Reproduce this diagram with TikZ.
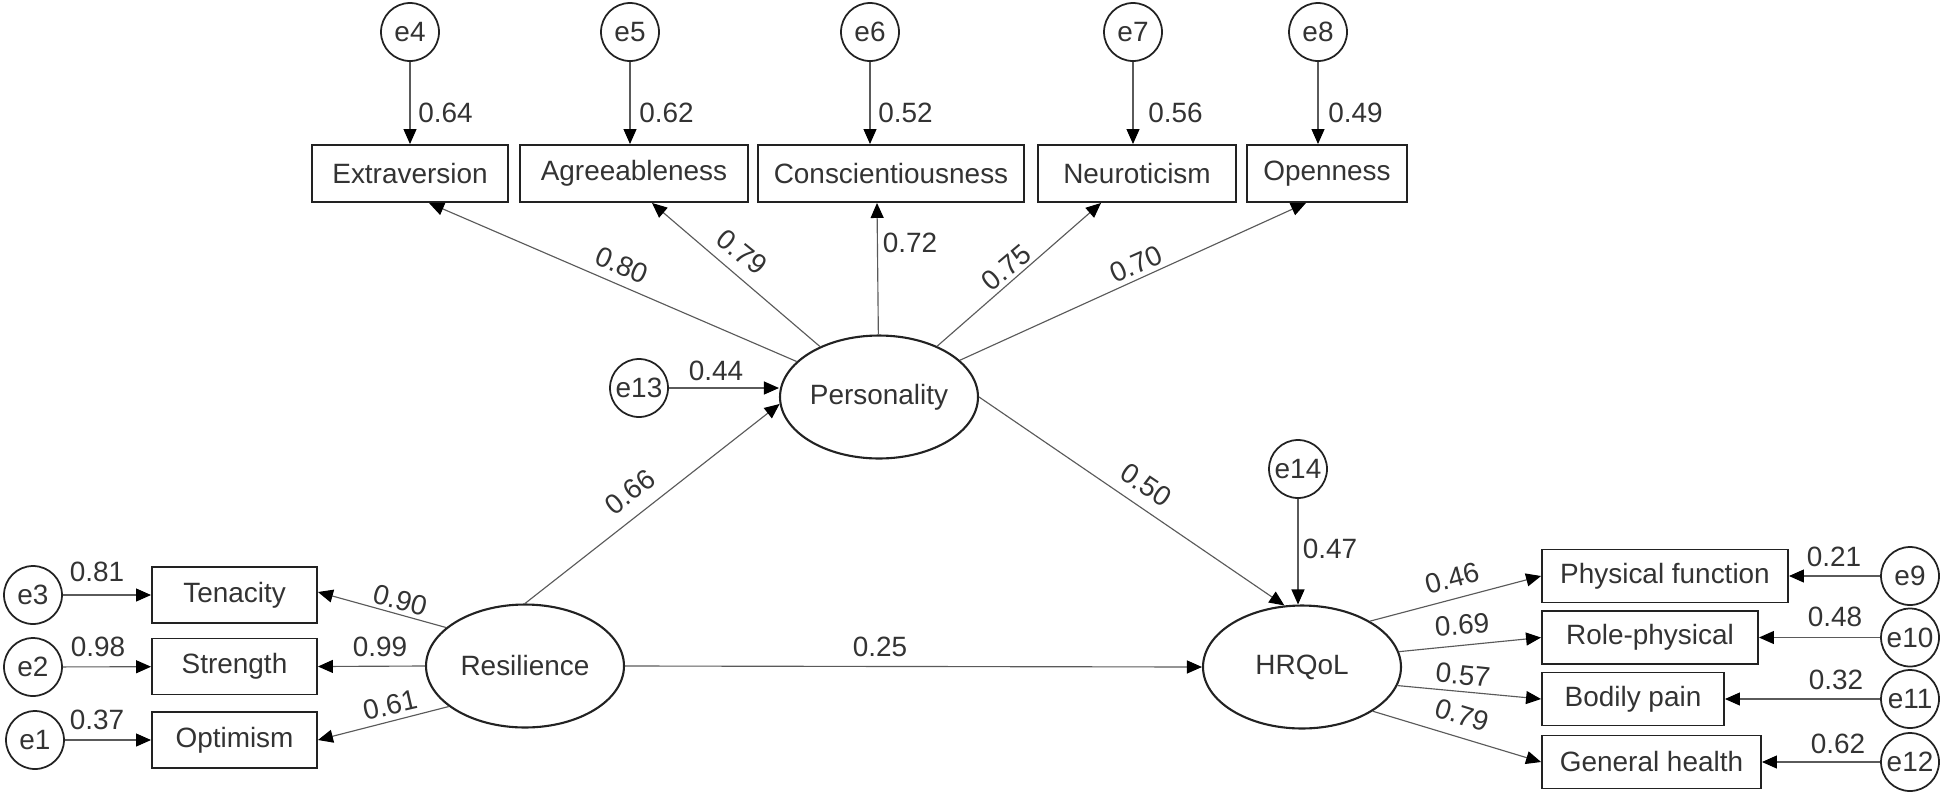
\documentclass[tikz,border=0pt]{standalone}
\usepackage{fontspec}
\setmainfont{Liberation Sans}
\usetikzlibrary{arrows.meta,calc,shapes.geometric}
\definecolor{ln}{HTML}{5A5A5A}
\definecolor{tx}{HTML}{333333}
\definecolor{bd}{HTML}{222222}
\begin{document}
\begin{tikzpicture}[x=0.02cm,y=-0.02cm,
  font=\fontsize{15.9}{19}\selectfont,
  every node/.style={text=tx},
  obs/.style={rectangle, draw=bd, line width=1.1pt, minimum height=1.12cm, inner sep=0pt},
  lat/.style={ellipse, draw=bd, line width=1.2pt, minimum width=3.96cm, minimum height=2.46cm, inner sep=0pt},
  err/.style={circle, draw=bd, line width=1pt, minimum size=1.16cm, inner sep=0pt},
  arr/.style={draw=ln, line width=0.65pt, -{Triangle[length=0.3cm,width=0.26cm,color=black]}},
  lab/.style={inner sep=0pt}]
\useasboundingbox (0,0) rectangle (1944,795);

% ---------- latent variables
\node[lat] (pers) at (879,397) {Personality};
\node[lat] (res) at (525,666) {Resilience};
\node[lat] (hrq) at (1302,667) {HRQoL};

% ---------- top indicators
\node[obs, minimum width=3.92cm, minimum height=1.14cm] (ext) at (410,173.5) {Extraversion};
\node[obs, minimum width=4.56cm, minimum height=1.14cm] (agr) at (634,173.5) {Agreeableness};
\node[obs, minimum width=5.32cm, minimum height=1.14cm] (con) at (891,173.5) {Conscientiousness};
\node[obs, minimum width=3.96cm, minimum height=1.14cm] (neu) at (1137,173.5) {Neuroticism};
\node[obs, minimum width=3.2cm, minimum height=1.14cm] (ope) at (1327,173.5) {Openness};

\node[err] (e4) at (410,32) {e4};
\node[err] (e5) at (630,32) {e5};
\node[err] (e6) at (870,32) {e6};
\node[err] (e7) at (1133,32) {e7};
\node[err] (e8) at (1318,32) {e8};

\draw[arr] (e4) -- (e4 |- ext.north);
\draw[arr] (e5) -- (e5 |- agr.north);
\draw[arr] (e6) -- (e6 |- con.north);
\draw[arr] (e7) -- (e7 |- neu.north);
\draw[arr] (e8) -- (e8 |- ope.north);
\node[lab, anchor=west] at (418,113) {0.64};
\node[lab, anchor=west] at (639,113) {0.62};
\node[lab, anchor=west] at (878,113) {0.52};
\node[lab, anchor=west] at (1148,113) {0.56};
\node[lab, anchor=west] at (1328,113) {0.49};

\draw[arr] (pers) -- ($(ext.south)+(19,0)$);
\draw[arr] (pers) -- ($(agr.south)+(18,0)$);
\draw[arr] (pers) -- ($(con.south)+(-14,0)$);
\draw[arr] (pers) -- ($(neu.south)+(-36,0)$);
\draw[arr] (pers) -- ($(ope.south)+(-21,0)$);
\node[lab, rotate=-23] at (622,265) {0.80};
\node[lab, rotate=-39] at (742,252) {0.79};
\node[lab] at (910,243) {0.72};
\node[lab, rotate=40] at (1006,268) {0.75};
\node[lab, rotate=24] at (1136,264) {0.70};

% ---------- e13, e14
\node[err] (e13) at (639,388) {e13};
\draw[arr] (e13) -- (e13 -| pers.west);
\node[lab] at (716,371) {0.44};

\node[err] (e14) at (1298,469) {e14};
\draw[arr] (e14) -- (e14 |- hrq.north);
\node[lab] at (1330,549) {0.47};

% ---------- structural paths
\draw[arr] (res.north) -- (pers.184);
\node[lab, rotate=38] at (630,492) {0.66};
\draw[arr] (pers.east) -- (hrq.106);
\node[lab, rotate=-34] at (1146,485) {0.50};
\draw[arr] (res.east) -- (hrq.west);
\node[lab] at (880,647) {0.25};

% ---------- left indicators
\node[obs, minimum width=3.3cm] (ten) at (234.5,595) {Tenacity};
\node[obs, minimum width=3.3cm] (str) at (234.5,666.5) {Strength};
\node[obs, minimum width=3.3cm] (opt) at (234.5,740) {Optimism};
\node[err] (e3) at (33,595) {e3};
\node[err] (e2) at (33,667) {e2};
\node[err] (e1) at (35,740) {e1};
\draw[arr] (e3) -- (ten);
\draw[arr] (e2) -- (str);
\draw[arr] (e1) -- (opt);
\node[lab] at (97,572) {0.81};
\node[lab] at (98,647) {0.98};
\node[lab] at (97,720) {0.37};

\draw[arr] (res.154) -- ($(ten.east)+(0,-3)$);
\draw[arr] (res.west) -- (str.east);
\draw[arr] (res.208) -- (opt.east);
\node[lab, rotate=-15] at (400,600) {0.90};
\node[lab] at (380,647) {0.99};
\node[lab, rotate=13] at (390,705) {0.61};

% ---------- right indicators
\node[obs, minimum width=4.92cm, minimum height=1.06cm] (pf) at (1665,576) {Physical function};
\node[obs, minimum width=4.32cm, minimum height=1.06cm] (rp) at (1650,637.5) {Role-physical};
\node[obs, minimum width=3.64cm, minimum height=1.06cm] (bp) at (1633,699) {Bodily pain};
\node[obs, minimum width=4.38cm, minimum height=1.06cm] (gh) at (1651.5,762) {General health};
\node[err] (e9) at (1910,576) {e9};
\node[err] (e10) at (1910,637.5) {e10};
\node[err] (e11) at (1910,699) {e11};
\node[err] (e12) at (1910,762) {e12};
\draw[arr] (e9) -- (pf);
\draw[arr] (e10) -- (rp);
\draw[arr] (e11) -- (bp);
\draw[arr] (e12) -- (gh);
\node[lab] at (1834,557) {0.21};
\node[lab] at (1835,617) {0.48};
\node[lab] at (1836,680) {0.32};
\node[lab] at (1838,744) {0.62};

\draw[arr] (hrq.34) -- (pf.west);
\draw[arr] (hrq.9) -- (rp.west);
\draw[arr] (hrq.349) -- (bp.west);
\draw[arr] (hrq.328) -- (gh.west);
\node[lab, rotate=15] at (1452,578) {0.46};
\node[lab, rotate=4] at (1462,625) {0.69};
\node[lab, rotate=-6] at (1463,675) {0.57};
\node[lab, rotate=-17] at (1462,715) {0.79};
\end{tikzpicture}
\end{document}
